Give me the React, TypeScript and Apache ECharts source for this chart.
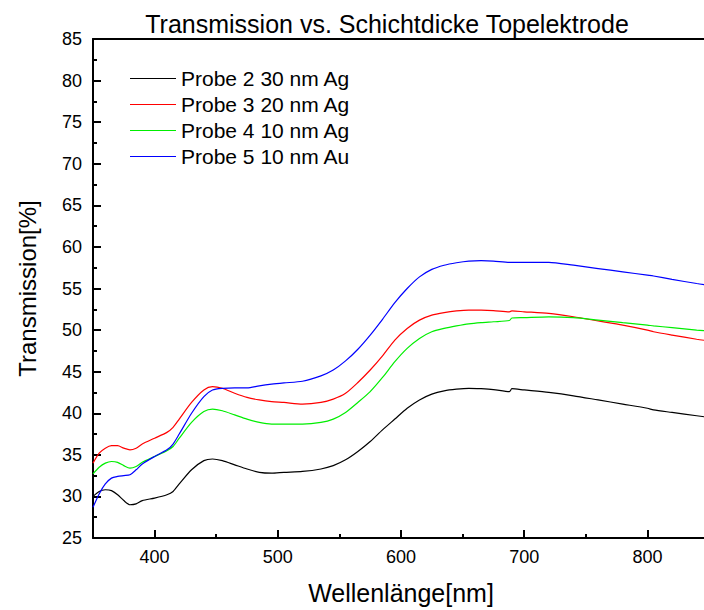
import React, { useEffect, useRef } from "react";
import * as echarts from "echarts";

const wavelength = [350, 355, 360, 365, 370, 375, 380, 385, 390, 400, 410, 415, 420, 430, 440, 447, 455, 465, 475, 485, 495, 505, 520, 535, 545, 555, 565, 575, 585, 595, 605, 615, 625, 635, 645, 655, 665, 675, 688, 690, 700, 720, 740, 760, 780, 800, 805, 820, 840, 850];

const probe2 = [30.0, 30.6, 30.8, 30.7, 30.2, 29.5, 29.0, 29.1, 29.5, 29.8, 30.2, 30.6, 31.5, 33.2, 34.3, 34.5, 34.3, 33.8, 33.3, 32.9, 32.8, 32.9, 33.0, 33.3, 33.7, 34.4, 35.4, 36.6, 38.0, 39.3, 40.6, 41.6, 42.3, 42.7, 42.9, 43.0, 42.95, 42.85, 42.6, 42.95, 42.8, 42.5, 42.1, 41.6, 41.1, 40.6, 40.4, 40.1, 39.7, 39.5];

const probe3 = [34.0, 35.2, 35.8, 36.1, 36.1, 35.8, 35.6, 35.8, 36.3, 37.0, 37.7, 38.3, 39.3, 41.3, 42.8, 43.2, 43.0, 42.4, 41.9, 41.6, 41.4, 41.3, 41.1, 41.3, 41.7, 42.4, 43.7, 45.2, 46.9, 48.8, 50.2, 51.2, 51.8, 52.1, 52.3, 52.4, 52.4, 52.35, 52.2, 52.3, 52.2, 52.0, 51.6, 51.1, 50.6, 50.0, 49.8, 49.4, 48.9, 48.7];

const probe4 = [32.7, 33.5, 34.0, 34.2, 34.1, 33.7, 33.4, 33.6, 34.1, 34.8, 35.5, 36.0, 37.0, 38.9, 40.2, 40.5, 40.3, 39.8, 39.3, 38.9, 38.7, 38.7, 38.7, 38.9, 39.3, 40.1, 41.3, 42.6, 44.3, 46.2, 47.8, 49.0, 49.8, 50.2, 50.5, 50.75, 50.9, 51.0, 51.15, 51.45, 51.5, 51.6, 51.5, 51.2, 50.9, 50.6, 50.5, 50.3, 50.0, 49.9];

const probe5 = [28.7, 30.3, 31.5, 32.2, 32.4, 32.5, 32.6, 33.2, 33.9, 34.8, 35.6, 36.3, 37.5, 40.0, 42.0, 42.8, 43.0, 43.05, 43.05, 43.3, 43.5, 43.65, 43.85, 44.5, 45.2, 46.3, 47.7, 49.4, 51.3, 53.3, 55.0, 56.4, 57.3, 57.8, 58.1, 58.3, 58.35, 58.3, 58.15, 58.15, 58.15, 58.15, 57.8, 57.4, 57.0, 56.6, 56.5, 56.1, 55.6, 55.4];

const seriesNames = ["Probe 2 30 nm Ag", "Probe 3 20 nm Ag", "Probe 4 10 nm Ag", "Probe 5 10 nm Au"];
const seriesValues = [probe2, probe3, probe4, probe5];
const seriesColors = ["#000000", "#ff0000", "#00ee00", "#0000ff"];

const xLabelTicks = [400, 500, 600, 700, 800];

const FONT = "'Liberation Sans', Arial, Helvetica, sans-serif";

export default function App() {
  const ref = useRef<HTMLDivElement>(null);

  useEffect(() => {
    if (!ref.current) return;
    const chart = echarts.init(ref.current, undefined, { renderer: "svg" });
    const axisLine = { show: true, lineStyle: { color: "#000", width: 2 } };
    chart.setOption({
      animation: false,
      backgroundColor: "#fff",
      textStyle: { fontFamily: FONT },
      title: {
        text: "Transmission vs. Schichtdicke Topelektrode",
        left: 382,
        top: 6,
        textAlign: "center",
        textStyle: { fontFamily: FONT, fontSize: 25, fontWeight: "normal", color: "#000" },
      },
      grid: { left: 93, right: 3, top: 39, bottom: 71.5, containLabel: false },
      legend: {
        data: seriesNames,
        orient: "vertical",
        left: 130,
        top: 68,
        padding: 0,
        icon: "rect",
        itemWidth: 46,
        itemHeight: 1,
        itemGap: 5,
        textStyle: { fontFamily: FONT, fontSize: 21, lineHeight: 20.5, color: "#000" },
      },
      xAxis: [
        {
          type: "value",
          min: 350,
          max: 850,
          interval: 50,
          position: "bottom",
          axisLine,
          axisTick: { show: true, inside: true, length: 8, lineStyle: { color: "#000", width: 2 }, customValues: xLabelTicks },
          axisLabel: { customValues: xLabelTicks, fontSize: 18, color: "#000", margin: 10, fontFamily: FONT },
          splitLine: { show: false },
          name: "Wellenlänge[nm]",
          nameLocation: "middle",
          nameGap: 42,
          nameTextStyle: { fontFamily: FONT, fontSize: 25, color: "#000", verticalAlign: "top" },
        },
        {
          type: "value",
          min: 350,
          max: 850,
          interval: 50,
          position: "bottom",
          axisLine: { show: false },
          axisTick: { show: true, inside: true, length: 4, lineStyle: { color: "#000", width: 2 } },
          axisLabel: { show: false },
          splitLine: { show: false },
        },
        {
          type: "value",
          min: 350,
          max: 850,
          position: "top",
          axisLine,
          axisTick: { show: false },
          axisLabel: { show: false },
          splitLine: { show: false },
        },
      ],
      yAxis: {
        type: "value",
        min: 25,
        max: 85,
        interval: 5,
        axisLine,
        axisTick: { show: true, inside: true, length: 8, lineStyle: { color: "#000", width: 2 } },
        minorTick: { show: true, splitNumber: 2, length: 4, lineStyle: { color: "#000", width: 2 } },
        axisLabel: { fontSize: 18, color: "#000", margin: 11, fontFamily: FONT },
        splitLine: { show: false },
        minorSplitLine: { show: false },
        name: "Transmission[%]",
        nameLocation: "middle",
        nameGap: 54,
        nameTextStyle: { fontFamily: FONT, fontSize: 24, color: "#000" },
      },
      series: seriesNames.map((name, k) => ({
        name,
        type: "line",
        xAxisIndex: 0,
        data: wavelength.map((w, i) => [w, seriesValues[k][i]]),
        showSymbol: false,
        symbol: "none",
        smooth: 0.25,
        color: seriesColors[k],
        lineStyle: { color: seriesColors[k], width: 1.2 },
      })),
    });
    return () => chart.dispose();
  }, []);

  return (
    <div style={{ position: "fixed", left: 0, top: 0, width: 704, height: 610, overflow: "hidden", background: "#fff" }}>
      <div ref={ref} style={{ width: 712, height: 610 }} />
    </div>
  );
}
